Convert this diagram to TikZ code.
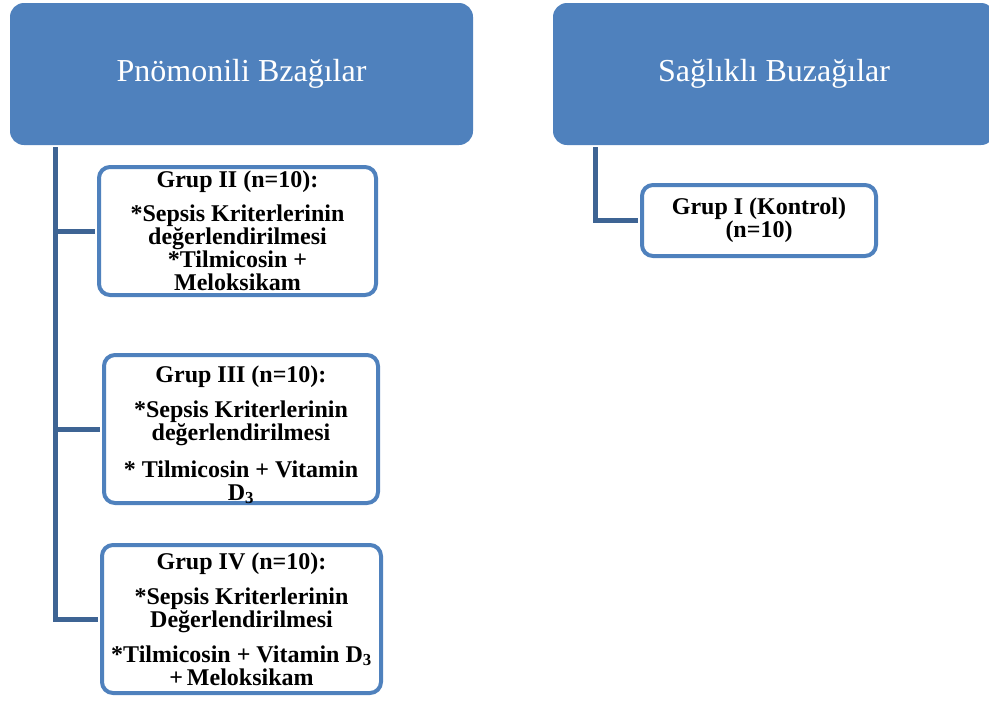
\documentclass[tikz,border=0pt]{standalone}
\usepackage{fontspec}
\setmainfont{Liberation Serif}
\usetikzlibrary{positioning}
\definecolor{hdrblue}{RGB}{79,129,189}
\definecolor{linkblue}{RGB}{62,100,148}

\begin{document}
\begin{tikzpicture}[x=1pt,y=-1pt,
  header/.style={rectangle,rounded corners=14pt,fill=hdrblue,text=white,inner sep=0pt,font=\fontsize{32}{36}\selectfont},
  groupbox/.style={rectangle,rounded corners=11pt,draw=hdrblue,line width=4pt,fill=white,align=center,inner sep=0pt,font=\bfseries\fontsize{24}{23}\selectfont},
  link/.style={draw=linkblue,line width=5pt}]

\useasboundingbox (0,0) rectangle (989,702);

% headers
\node (pnom) [header,minimum width=463pt,minimum height=142pt] at (241.5,74) {Pnömonili Bzağılar};
\node (sag) [header,minimum width=442pt,minimum height=142pt] at (774,74) {Sağlıklı Buzağılar};

% groups
\node (g2) [groupbox,minimum width=277pt,minimum height=128pt] at (237.5,231)
  {Grup II (n=10):\\[11pt]*Sepsis Kriterlerinin\\değerlendirilmesi\\*Tilmicosin +\\Meloksikam};
\node (g3) [groupbox,minimum width=274pt,minimum height=148pt] at (241,429)
  {\rule{0pt}{24pt}Grup III (n=10):\\[12pt]*Sepsis Kriterlerinin\\değerlendirilmesi\\[14pt]* Tilmicosin + Vitamin\\\raisebox{0pt}[\height][0pt]{D\textsubscript{3}}};
\node (g4) [groupbox,minimum width=279pt,minimum height=148pt] at (241.5,619)
  {Grup IV (n=10):\\[12pt]*Sepsis Kriterlerinin\\Değerlendirilmesi\\[12pt]*Tilmicosin + Vitamin D\textsubscript{3}\\+\,Meloksikam};
\node (g1) [groupbox,minimum width=234pt,minimum height=71pt] at (759,220.5)
  {Grup I (Kontrol)\\(n=10)};

% connectors
\coordinate (tL) at (55,147);
\coordinate (tR) at (595,147);
\draw[link,shorten >=2pt] (tL) |- (g4.west);
\draw[link,shorten >=2pt] (tL |- g2.west) -- (g2.west);
\draw[link,shorten >=2pt] (tL |- g3.west) -- (g3.west);
\draw[link,shorten >=2pt] (tR) |- (g1.west);

\end{tikzpicture}
\end{document}
